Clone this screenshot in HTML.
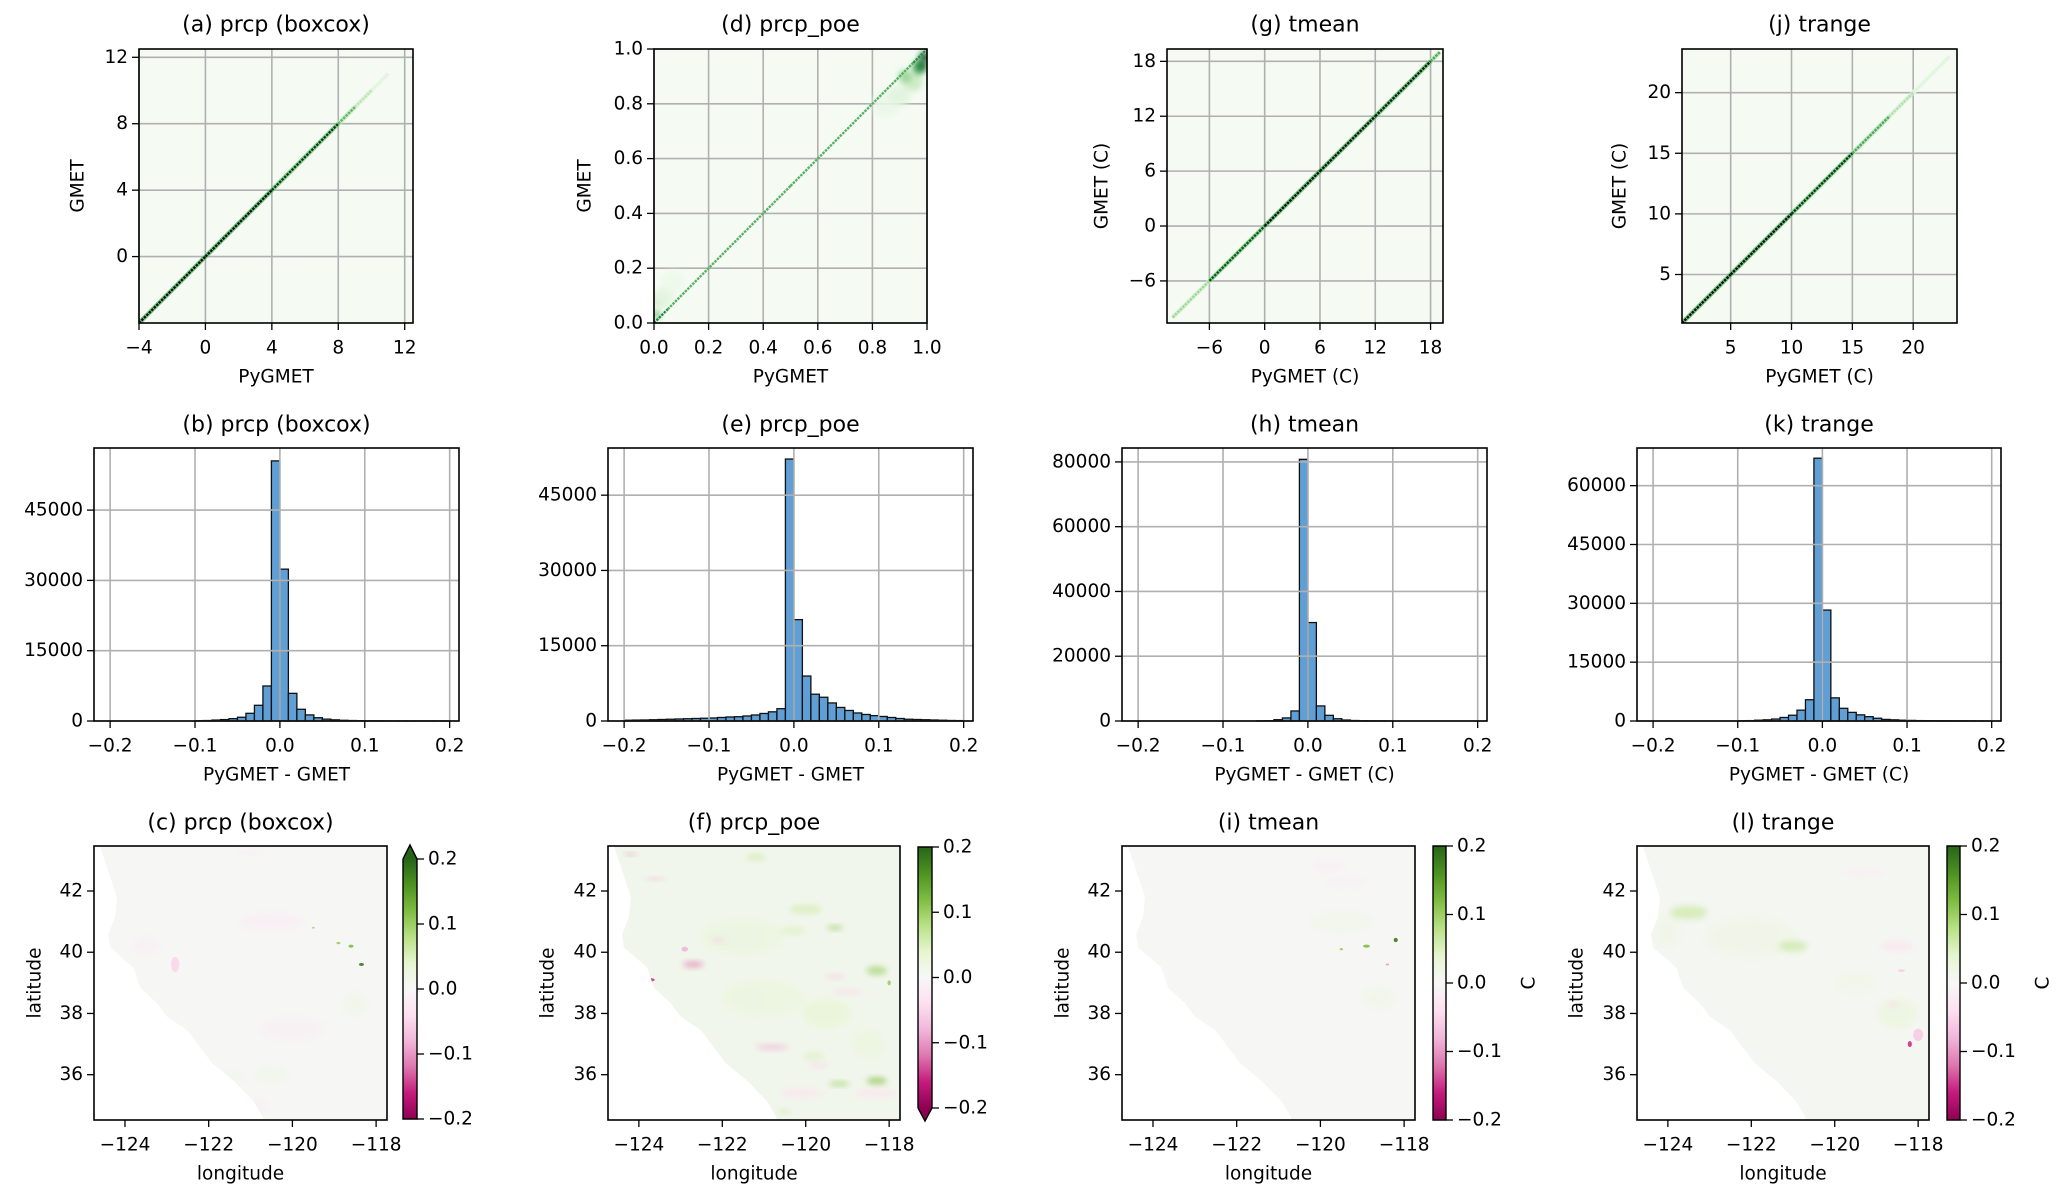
<!DOCTYPE html>
<html><head><meta charset="utf-8"><title>PyGMET vs GMET</title>
<style>
html,body{margin:0;padding:0;background:#fff;}
svg{display:block;font-family:"DejaVu Sans","Liberation Sans",sans-serif;}
</style></head>
<body>
<svg id="fig" xmlns="http://www.w3.org/2000/svg" width="2067" height="1201" viewBox="0 0 2067 1201">
<defs>
<linearGradient id="piyg" x1="0" y1="1" x2="0" y2="0">
<stop offset="0" stop-color="#8e0152"/><stop offset="0.1" stop-color="#c51b7d"/><stop offset="0.2" stop-color="#de77ae"/><stop offset="0.3" stop-color="#f1b6da"/><stop offset="0.4" stop-color="#fde0ef"/><stop offset="0.5" stop-color="#f7f7f7"/><stop offset="0.6" stop-color="#e6f5d0"/><stop offset="0.7" stop-color="#b8e186"/><stop offset="0.8" stop-color="#7fbc41"/><stop offset="0.9" stop-color="#4d9221"/><stop offset="1" stop-color="#276419"/>
</linearGradient>
<filter id="soft" x="-50%" y="-50%" width="200%" height="200%"><feGaussianBlur stdDeviation="3"/></filter>
</defs>
</svg>
<script>
// ---------- DATA ----------
const scatterTitles=['(a) prcp (boxcox)','(d) prcp_poe','(g) tmean','(j) trange'];
const scatterXLabels=['PyGMET','PyGMET','PyGMET (C)','PyGMET (C)'];
const scatterYLabels=['GMET','GMET','GMET (C)','GMET (C)'];
const scatterLims=[[-4,12.5],[0,1],[-10.6,19.35],[1.0,23.6]];
const scatterXTicks=[[-4,0,4,8,12],[0,0.2,0.4,0.6,0.8,1.0],[-6,0,6,12,18],[5,10,15,20]];
const scatterYTicks=[[0,4,8,12],[0,0.2,0.4,0.6,0.8,1.0],[-6,0,6,12,18],[5,10,15,20]];
// diagonal density: values along 1:1 line and their intensity (0..1)
const diagAVals=[-4,0,4,8,9,10,11];
const diagAInt=[1,1,1,0.6,0.3,0.15,0.05];
const diagDVals=[0,0.05,0.5,0.95,1.0];
const diagDInt=[0.95,0.65,0.6,0.65,0.9];
const diagGVals=[-10,-6,0,6,12,18,19];
const diagGInt=[0.1,0.5,1,1,1,0.9,0.1];
const diagJVals=[1,5,10,15,18,20,23];
const diagJInt=[1,1,1,0.65,0.35,0.15,0.05];
// prcp_poe off-diagonal spread: x, y, intensity, radius
const cloudDX=[0.02,0.04,0.07,0.01,0.85,0.9,0.95,0.97,0.99,0.98,0.92];
const cloudDY=[0.08,0.1,0.15,0.03,0.8,0.83,0.88,0.93,0.97,0.94,0.9];
const cloudDI=[0.2,0.1,0.05,0.5,0.06,0.12,0.25,0.6,0.95,0.85,0.4];
const cloudDR=[0.025,0.035,0.04,0.015,0.05,0.04,0.035,0.025,0.02,0.02,0.025];

const histTitles=['(b) prcp (boxcox)','(e) prcp_poe','(h) tmean','(k) trange'];
const histXLabels=['PyGMET - GMET','PyGMET - GMET','PyGMET - GMET (C)','PyGMET - GMET (C)'];
const histXTicks=[-0.2,-0.1,0,0.1,0.2];
const histBinStart=-0.2, histBinWidth=0.01;
const histB=[0,0,0,0,0,0,0,0,0,0, 60,100,200,300,500,800,1640,3350,7470,55500, 32400,5900,2500,1300,700,400,250,150,100,60, 40,30,20,10,10,5,5,5,5,5];
const histE=[150,180,200,250,300,350,400,450,500,550, 600,700,800,850,1000,1200,1500,1830,2450,52200, 20200,8960,5340,4730,3600,2700,2100,1600,1300,1070, 900,700,500,350,300,250,200,150,100,80];
const histH=[0,0,0,0,0,0,0,0,0,0, 0,0,0,0,50,100,400,950,3100,80800, 30400,4650,1750,700,300,150,80,50,30,10, 0,0,0,0,0,0,0,0,0,0];
const histK=[0,0,0,0,0,0,0,0,0,0, 50,100,200,300,500,900,1470,2760,5420,67000, 28280,5900,3230,2200,1570,1100,700,400,300,200, 150,100,80,60,50,40,30,20,10,5];
const histYTicks=[[0,15000,30000,45000],[0,15000,30000,45000],[0,20000,40000,60000,80000],[0,15000,30000,45000,60000]];
const histYMax=[58250,54400,84300,69600];

const mapTitles=['(c) prcp (boxcox)','(f) prcp_poe','(i) tmean','(l) trange'];
const lonTicks=[-124,-122,-120,-118];
const latTicks=[36,38,40,42];
const cbarTicks=[-0.2,-0.1,0,0.1,0.2];
const lonLim=[-124.74,-117.74], latLim=[34.52,43.47];
const coastLon=[-124.6,-124.43,-124.19,-124.24,-124.4,-124.36,-123.8,-123.64,-123.23,-123.0,-122.5,-122.2,-121.9,-121.4,-120.93,-120.7,-120.7];
const coastLat=[43.47,42.78,41.8,41.14,40.6,40.16,39.5,38.85,38.32,37.9,37.44,36.88,36.35,35.8,35.14,34.6,34.52];
// anomaly blobs: lon, lat, value, rx (deg), ry (deg)
const blobsC=[[-122.8,39.6,-0.05,0.1,0.25],[-123.5,40.2,-0.02,0.3,0.25],[-120.5,41,-0.02,0.8,0.3],[-121,43.3,-0.02,0.4,0.08],[-120,37.5,-0.015,0.8,0.4],[-121,35,-0.02,0.4,0.2],[-118.35,39.6,0.18,0.06,0.05],[-118.6,40.2,0.12,0.06,0.05],[-118.9,40.3,0.1,0.05,0.04],[-119.5,40.8,0.1,0.03,0.03],[-118.5,38.3,0.02,0.3,0.4],[-120.5,36,0.02,0.4,0.25],[-121.5,35.9,0.02,0.4,0.15]];
const blobsF=[[-121,38.5,0.03,1,0.6],[-121.5,40.5,0.03,1,0.6],[-119.5,38,0.04,0.6,0.5],[-118.5,37.0,0.03,0.4,0.5],[-123.9,39.2,-0.18,0.12,0.05],[-123.7,39.1,-0.15,0.08,0.05],[-122.7,39.6,-0.12,0.25,0.1],[-122.9,40.1,-0.08,0.08,0.08],[-124.2,43.2,-0.1,0.15,0.05],[-123.6,42.4,-0.08,0.25,0.05],[-122.1,40.4,-0.06,0.15,0.08],[-120.8,36.9,-0.08,0.4,0.1],[-119.3,39.2,-0.06,0.25,0.08],[-119.0,38.7,-0.05,0.4,0.08],[-118.3,35.4,-0.04,0.5,0.15],[-120.1,35.4,-0.04,0.5,0.15],[-119.7,36.3,-0.05,0.25,0.08],[-121.2,43.1,0.06,0.25,0.12],[-120.0,41.4,0.06,0.4,0.15],[-119.3,40.8,0.1,0.2,0.08],[-120.3,40.7,0.05,0.3,0.15],[-118.3,39.4,0.1,0.25,0.15],[-118.0,39.0,0.1,0.04,0.08],[-118.3,35.8,0.12,0.25,0.12],[-119.2,35.7,0.1,0.25,0.08],[-119.8,36.6,0.05,0.25,0.15],[-120.5,34.8,0.06,0.15,0.08]];
const blobsI=[[-118.6,38.5,0.02,0.4,0.4],[-119.5,41,0.015,0.8,0.4],[-119.8,42.8,-0.02,0.4,0.2],[-121.5,35.5,-0.02,0.25,0.12],[-119.4,42.3,-0.015,0.5,0.15],[-118.2,40.4,0.18,0.05,0.07],[-118.9,40.2,0.12,0.08,0.05],[-119.5,40.1,0.1,0.04,0.04],[-118.4,39.6,-0.1,0.04,0.03]];
const blobsL=[[-122,40.5,0.02,1.1,0.7],[-124,40.7,0.02,0.3,0.5],[-118.5,38,0.03,0.5,0.5],[-119.5,39,0.02,0.5,0.35],[-123.5,41.3,0.07,0.45,0.22],[-121.0,40.2,0.07,0.35,0.18],[-118.5,40.2,-0.04,0.4,0.15],[-118.2,37.0,-0.15,0.05,0.1],[-118.0,37.3,-0.06,0.12,0.2],[-118.4,39.4,-0.06,0.08,0.04],[-118.6,38.3,-0.05,0.15,0.08],[-121.8,35.6,-0.05,0.25,0.08],[-119.3,42.6,-0.015,0.5,0.15]];

// ---------- LAYOUT ----------
const scatterBoxes=[[139,49,413,323],[654,49,927,323],[1167,49,1443,323],[1682,49,1957,323]];
const scatterYLabelX=[78,585,1102,1620];
const histBoxes=[[94,448,459,721],[608,448,973,721],[1122,448,1487,721],[1637,448,2001,721]];
const mapBoxes=[[94,846,387,1120],[608,846,900,1120],[1122,846,1415,1120],[1637,846,1929,1120]];
const mapYLabelX=[35,548,1063,1577];
const cbarBoxes=[[403,859,417,1119],[918,847,932,1108],[1433,846,1446,1120],[1947,846,1960,1120]];
const cbarExtend=['max','min','none','none'];
const cbarLabel=['','','C','C'];

const NS='http://www.w3.org/2000/svg';
const svg=document.getElementById('fig');
function mk(tag,attrs,parent){const e=document.createElementNS(NS,tag);for(const k in attrs)e.setAttribute(k,attrs[k]);(parent||svg).appendChild(e);return e;}
function fmt(v,dec){let s=dec?v.toFixed(dec):String(Math.round(v));return s.replace('-','\u2212');}
function lerpHex(a,b,t){const pa=[1,3,5].map(i=>parseInt(a.substr(i,2),16)),pb=[1,3,5].map(i=>parseInt(b.substr(i,2),16));return 'rgb('+pa.map((v,i)=>Math.round(v+(pb[i]-v)*t)).join(',')+')';}
function ramp(stops,t){t=Math.max(0,Math.min(1,t));const n=stops.length-1;const i=Math.min(n-1,Math.floor(t*n));return lerpHex(stops[i],stops[i+1],t*n-i);}
const greens=['#f7fcf5','#c7e9c0','#74c476','#238b45','#00441b','#001a0a'];
const piyg=['#8e0152','#c51b7d','#de77ae','#f1b6da','#fde0ef','#f7f7f7','#e6f5d0','#b8e186','#7fbc41','#4d9221','#276419'];
function piygColor(v){return ramp(piyg,(v+0.2)/0.4);}
function lin(d0,d1,r0,r1){return v=>r0+(v-d0)/(d1-d0)*(r1-r0);}

function text(x,y,s,size,anchor,parent){const t=mk('text',{x:x,y:y,'font-size':size,'text-anchor':anchor||'middle','dominant-baseline':'central',fill:'#000'},parent);t.textContent=s;return t;}

function axesFrame(g,box,sx,sy,xt,yt,xdec,ydec,grid){
  const [x0,y0,x1,y1]=box;
  const gg=mk('g',{},g);
  
  
  if(grid){
    xt.forEach(v=>mk('line',{x1:sx(v),x2:sx(v),y1:y0,y2:y1,stroke:'#b0b0b0','stroke-width':1.6},gg));
    yt.forEach(v=>mk('line',{x1:x0,x2:x1,y1:sy(v),y2:sy(v),stroke:'#b0b0b0','stroke-width':1.6},gg));
  }
  const ax=mk('g',{},g);
  
  
  xt.forEach(v=>{mk('line',{x1:sx(v),x2:sx(v),y1:y1,y2:y1+7,stroke:'#000','stroke-width':1.3},ax);
    const t=text(sx(v),y1+25,fmt(v,xdec),18.5,'middle',ax);
    
    });
  const ay=mk('g',{},g);
  
  
  yt.forEach(v=>{mk('line',{x1:x0-7,x2:x0,y1:sy(v),y2:sy(v),stroke:'#000','stroke-width':1.3},ay);
    const t=text(x0-11,sy(v),fmt(v,ydec),18.5,'end',ay);
    
    });
  return gg;
}
function spine(g,box){const [x0,y0,x1,y1]=box;const r=mk('rect',{x:x0,y:y0,width:x1-x0,height:y1-y0,fill:'none',stroke:'#000','stroke-width':1.6},g);
  
  }

// ---------- SCATTER (density) PANELS ----------
const diagVals=[diagAVals,diagDVals,diagGVals,diagJVals];
const diagInts=[diagAInt,diagDInt,diagGInt,diagJInt];
for(let p=0;p<4;p++){
  const box=scatterBoxes[p];const [x0,y0,x1,y1]=box;
  const g=mk('g',{});
  
  
  const lim=scatterLims[p];
  const sx=lin(lim[0],lim[1],x0,x1), sy=lin(lim[0],lim[1],y1,y0);
  const bg=mk('rect',{x:x0,y:y0,width:x1-x0,height:y1-y0,fill:'#f5fbf3'},g);
  
  
  const dec=p===1?1:0;
  axesFrame(g,box,sx,sy,scatterXTicks[p],scatterYTicks[p],dec,dec,true);
  const cl=mk('clipPath',{id:'clipS'+p},g);mk('rect',{x:x0,y:y0,width:x1-x0,height:y1-y0},cl);
  const mg=mk('g',{'clip-path':'url(#clipS'+p+')'},g);
  
  
  if(p===1){
    for(let k=0;k<cloudDX.length;k++){
      const r=cloudDR[k]*(x1-x0);
      const c=mk('circle',{cx:sx(cloudDX[k]),cy:sy(cloudDY[k]),r:r,fill:ramp(greens,cloudDI[k]*0.8),opacity:0.85,filter:'url(#soft)'},mg);
      
      
    }
  }
  const dv=diagVals[p],di=diagInts[p];
  for(let k=0;k<dv.length-1;k++){
    const t=(di[k]+di[k+1])/2;
    if(p!==1){const h=mk('line',{x1:sx(dv[k]),y1:sy(dv[k]),x2:sx(dv[k+1]),y2:sy(dv[k+1]),stroke:ramp(greens,t*0.45),'stroke-width':4.5,opacity:0.8},mg);
      
      }
    const l=mk('line',{x1:sx(dv[k]),y1:sy(dv[k]),x2:sx(dv[k+1]),y2:sy(dv[k+1]),stroke:ramp(greens,p===1?t*0.75:t),'stroke-width':p===1?2.4:2.4,'stroke-dasharray':'2.5 1'},mg);
    
    
  }
  spine(g,box);
  const tt=text((x0+x1)/2,y0-24,scatterTitles[p],22,'middle',g);
  
  
  const xl=text((x0+x1)/2,y1+54,scatterXLabels[p],18.5,'middle',g);
  
  
  const yl=text(0,0,scatterYLabels[p],18.5,'middle',g);
  yl.setAttribute('transform','translate('+scatterYLabelX[p]+','+((y0+y1)/2)+') rotate(-90)');
  
  
}

// ---------- HISTOGRAMS ----------
const histData=[histB,histE,histH,histK];
for(let p=0;p<4;p++){
  const box=histBoxes[p];const [x0,y0,x1,y1]=box;
  const g=mk('g',{});
  
  
  const sx=lin(-0.219,0.211,x0,x1), sy=lin(0,histYMax[p],y1,y0);
  const bars=mk('g',{},g);
  
  
  const d=histData[p];
  for(let i=0;i<d.length;i++){
    if(d[i]<=0)continue;
    const a=histBinStart+i*histBinWidth,b=a+histBinWidth;
    const r=mk('rect',{x:sx(a),y:sy(d[i]),width:sx(b)-sx(a),height:sy(0)-sy(d[i]),fill:'#5f9fd6',stroke:'#111','stroke-width':1.3},bars);
    
    
  }
  axesFrame(g,box,sx,sy,histXTicks,histYTicks[p],1,0,true);
  spine(g,box);
  const tt=text((x0+x1)/2,y0-23,histTitles[p],22,'middle',g);
  
  
  const xl=text((x0+x1)/2,y1+54,histXLabels[p],18.5,'middle',g);
  
  
}

// ---------- MAPS ----------
const mapBlobs=[blobsC,blobsF,blobsI,blobsL];
const landBase=['#f6f6f5','#f1f6ec','#f6f6f5','#f4f6f1'];
for(let p=0;p<4;p++){
  const box=mapBoxes[p];const [x0,y0,x1,y1]=box;
  const g=mk('g',{});
  
  
  const sx=lin(lonLim[0],lonLim[1],x0,x1), sy=lin(latLim[0],latLim[1],y1,y0);
  let pts=[[sx(lonLim[1]),sy(latLim[1])],[sx(lonLim[1]),sy(latLim[0])]];
  for(let k=coastLon.length-1;k>=0;k--)pts.push([sx(coastLon[k]),sy(coastLat[k])]);
  const cl=mk('clipPath',{id:'clipM'+p},g);
  mk('polygon',{points:pts.map(q=>q.join(',')).join(' ')},cl);
  const land=mk('polygon',{points:pts.map(q=>q.join(',')).join(' '),fill:landBase[p]},g);
  
  
  const bg=mk('g',{'clip-path':'url(#clipM'+p+')'},g);
  
  
  mapBlobs[p].forEach(b=>{
    const big=b[3]>0.12;
    const e=mk('ellipse',{cx:sx(b[0]),cy:sy(b[1]),rx:Math.abs(sx(b[0]+b[3])-sx(b[0])),ry:Math.abs(sy(b[1]+b[4])-sy(b[1])),fill:piygColor(b[2]),opacity:big?0.6:0.9,filter:(big?'url(#soft)':'none')},bg);
    
    
  });
  axesFrame(g,box,sx,sy,lonTicks,latTicks,0,0,false);
  spine(g,box);
  const tt=text((x0+x1)/2,y0-23,mapTitles[p],22,'middle',g);
  
  
  const xl=text((x0+x1)/2,y1+54,'longitude',18.5,'middle',g);
  
  
  const yl=text(0,0,'latitude',18.5,'middle',g);
  yl.setAttribute('transform','translate('+mapYLabelX[p]+','+((y0+y1)/2)+') rotate(-90)');
  
  
  // colorbar
  const cb=cbarBoxes[p];
  const cg=mk('g',{},g);
  
  
  const cy=lin(-0.2,0.2,cb[3],cb[1]);
  let outline;
  if(cbarExtend[p]==='max'){mk('polygon',{points:cb[0]+','+cb[1]+' '+cb[2]+','+cb[1]+' '+((cb[0]+cb[2])/2)+','+(cb[1]-14),fill:'#276419'},cg);
    outline='M'+cb[0]+','+cb[1]+' L'+((cb[0]+cb[2])/2)+','+(cb[1]-14)+' L'+cb[2]+','+cb[1]+' L'+cb[2]+','+cb[3]+' L'+cb[0]+','+cb[3]+' Z';}
  else if(cbarExtend[p]==='min'){mk('polygon',{points:cb[0]+','+cb[3]+' '+cb[2]+','+cb[3]+' '+((cb[0]+cb[2])/2)+','+(cb[3]+13),fill:'#8e0152'},cg);
    outline='M'+cb[0]+','+cb[1]+' L'+cb[2]+','+cb[1]+' L'+cb[2]+','+cb[3]+' L'+((cb[0]+cb[2])/2)+','+(cb[3]+13)+' L'+cb[0]+','+cb[3]+' Z';}
  else outline='M'+cb[0]+','+cb[1]+' L'+cb[2]+','+cb[1]+' L'+cb[2]+','+cb[3]+' L'+cb[0]+','+cb[3]+' Z';
  mk('rect',{x:cb[0],y:cb[1],width:cb[2]-cb[0],height:cb[3]-cb[1],fill:'url(#piyg)'},cg);
  mk('path',{d:outline,fill:'none',stroke:'#000','stroke-width':1.4},cg);
  cbarTicks.forEach(v=>{mk('line',{x1:cb[2],x2:cb[2]+7,y1:cy(v),y2:cy(v),stroke:'#000','stroke-width':1.3},cg);
    const t=text(cb[2]+11,cy(v),fmt(v,1),18.5,'start',cg);
    
    });
  if(cbarLabel[p]){const t=text(0,0,cbarLabel[p],18.5,'middle',cg);
    t.setAttribute('transform','translate('+(cb[2]+83)+','+((cb[1]+cb[3])/2)+') rotate(-90)');
    
    }
}
</script>
</body></html>
